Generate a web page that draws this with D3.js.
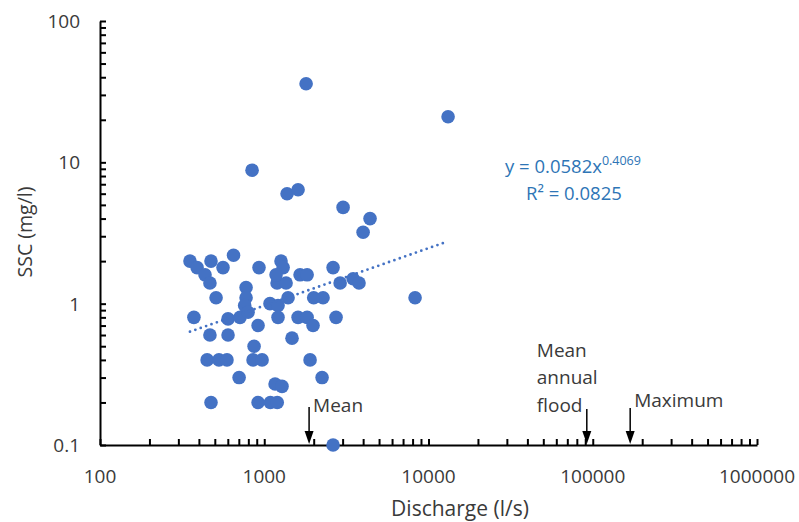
<!DOCTYPE html>
<html>
<head>
<meta charset="utf-8">
<script src="https://cdn.jsdelivr.net/npm/d3@7"></script>
<style>
  html, body { margin: 0; padding: 0; background: #fff; }
  svg { display: block; }
  text { font-family: "Open Sans", "DejaVu Sans", sans-serif; }
</style>
</head>
<body>
<svg id="chart" width="799" height="522"></svg>
<script>
// Discharge (l/s) and suspended sediment concentration (mg/l) for each sample
const discharge = [353, 390, 436, 467, 474, 561, 650, 509, 373, 467, 602, 602, 712, 775, 775, 760, 797, 929, 917, 867,
  855, 970, 449, 530, 593, 703, 474, 917, 1090, 1200, 1164, 1283, 1265, 1303, 1197, 1358, 1084, 1213, 1213, 1396,
  1652, 1824, 1607, 1824, 1982, 2000, 2280, 2624, 2897, 2736, 1901, 2249, 1476, 3475, 3776, 3998, 4406, 3020, 1377, 1607,
  843, 1798, 13160, 8285, 2624, 1180];
const ssc = [2.0, 1.8, 1.6, 1.4, 2.0, 1.8, 2.2, 1.1, 0.8, 0.6, 0.6, 0.78, 0.8, 1.3, 1.1, 0.97, 0.87, 1.8, 0.7, 0.5,
  0.4, 0.4, 0.4, 0.4, 0.4, 0.3, 0.2, 0.2, 0.2, 0.2, 0.27, 0.26, 2.0, 1.8, 1.4, 1.4, 1.0, 0.97, 0.8, 1.1,
  1.6, 1.6, 0.8, 0.8, 0.7, 1.1, 1.1, 1.8, 1.4, 0.8, 0.4, 0.3, 0.57, 1.5, 1.4, 3.2, 4.0, 4.8, 6.0, 6.4,
  8.8, 36, 21, 1.1, 0.1, 1.6];

// Power-law trendline y = a·x^b
const trendCoef = 0.0582;
const trendExp = 0.4069;
const trendR2 = 0.0825;

// Reference discharges marked with arrows
const markerLabels = [["Mean"], ["Mean", "annual", "flood"], ["Maximum"]];
const markerValues = [1875, 92000, 169000];

const xTickValues = [100, 1000, 10000, 100000, 1000000];
const yTickValues = [0.1, 1, 10, 100];

const svg = d3.select("#chart");
const blue = "#4472C4";
const textColor = "#3a3a3a";

const x = d3.scaleLog().domain([100, 1000000]).range([100, 757]);
const y = d3.scaleLog().domain([0.1, 100]).range([445, 21]);

// minor + major ticks (1..9 per decade), drawn inside the plot
function logTicks(lo, hi) {
  const out = [];
  for (let d = lo; d < hi; d *= 10) for (let k = 1; k < 10; k++) out.push(d * k);
  out.push(hi);
  return out;
}

const xAxis = d3.axisBottom(x).tickValues(logTicks(100, 1000000)).tickSize(-6).tickFormat("").tickSizeOuter(0);
const yAxis = d3.axisLeft(y).tickValues(logTicks(0.1, 100)).tickSize(-6).tickFormat("").tickSizeOuter(0);

const gx = svg.append("g").attr("transform", "translate(0,445)").call(xAxis);
const gy = svg.append("g").attr("transform", "translate(100,0)").call(yAxis);
[gx, gy].forEach(g => {
  g.selectAll("path.domain").attr("stroke", "#000").attr("stroke-width", 2);
  g.selectAll(".tick line").attr("stroke", "#000").attr("stroke-width", 2);
});

// tick labels
svg.append("g").selectAll("text").data(xTickValues).join("text")
  .attr("x", d => x(d)).attr("y", 483)
  .attr("text-anchor", "middle").attr("font-size", 19).attr("fill", textColor)
  .text(d => String(d));
svg.append("g").selectAll("text").data(yTickValues).join("text")
  .attr("x", 80).attr("y", d => y(d) + 7)
  .attr("text-anchor", "end").attr("font-size", 19).attr("fill", textColor)
  .text(d => String(d));

// axis titles
svg.append("text").attr("x", 460).attr("y", 516).attr("text-anchor", "middle")
  .attr("font-size", 21).attr("fill", textColor).text("Discharge (l/s)");
svg.append("text").attr("transform", "translate(32,232) rotate(-90)").attr("text-anchor", "middle")
  .attr("font-size", 19.5).attr("fill", textColor).text("SSC (mg/l)");

// data points
const pts = discharge.map((d, i) => ({ q: d, c: ssc[i] }));
svg.append("g").selectAll("circle").data(pts).join("circle")
  .attr("cx", d => x(d.q)).attr("cy", d => y(d.c)).attr("r", 6.8)
  .attr("fill", blue);

// dotted trendline across the range of discharge
const qMin = d3.min(discharge), qMax = d3.max(discharge);
const trendPts = d3.range(0, 101).map(i => {
  const q = Math.pow(10, Math.log10(qMin) + (Math.log10(qMax) - Math.log10(qMin)) * i / 100);
  return [q, trendCoef * Math.pow(q, trendExp)];
});
svg.append("path").datum(trendPts)
  .attr("d", d3.line().x(d => x(d[0])).y(d => y(d[1])))
  .attr("fill", "none").attr("stroke", blue).attr("stroke-width", 2.8)
  .attr("stroke-linecap", "round").attr("stroke-dasharray", "0 5.7");

// trendline equation
const eq = svg.append("text").attr("x", 505).attr("y", 173)
  .attr("font-size", 18.5).attr("fill", "#2E75B6");
eq.append("tspan").text(`y = ${trendCoef}x`);
eq.append("tspan").attr("dy", -8).attr("font-size", 12.5).text(String(trendExp));
const r2 = svg.append("text").attr("x", 526).attr("y", 200)
  .attr("font-size", 18.5).attr("fill", "#2E75B6");
r2.append("tspan").text("R² = " + trendR2);

// reference arrows with labels
const arrowTop = [407, 409, 408];
markerValues.forEach((v, i) => {
  const ax = x(v);
  const g = svg.append("g");
  g.append("line").attr("x1", ax).attr("x2", ax).attr("y1", arrowTop[i]).attr("y2", 432)
    .attr("stroke", "#000").attr("stroke-width", 1.5);
  g.append("path").attr("d", `M${ax - 4.5},431 L${ax + 4.5},431 L${ax},444 Z`).attr("fill", "#000");
  const lines = markerLabels[i];
  const multi = lines.length > 1;
  const tx = multi ? ax - 50 : ax + 4;
  const baseY = multi ? 411.5 : (i === 0 ? 412 : 407);
  lines.forEach((t, j) => {
    g.append("text").attr("x", tx).attr("y", baseY - (lines.length - 1 - j) * 27.2)
      .attr("font-size", 19).attr("fill", textColor).text(t);
  });
});
</script>
</body>
</html>
